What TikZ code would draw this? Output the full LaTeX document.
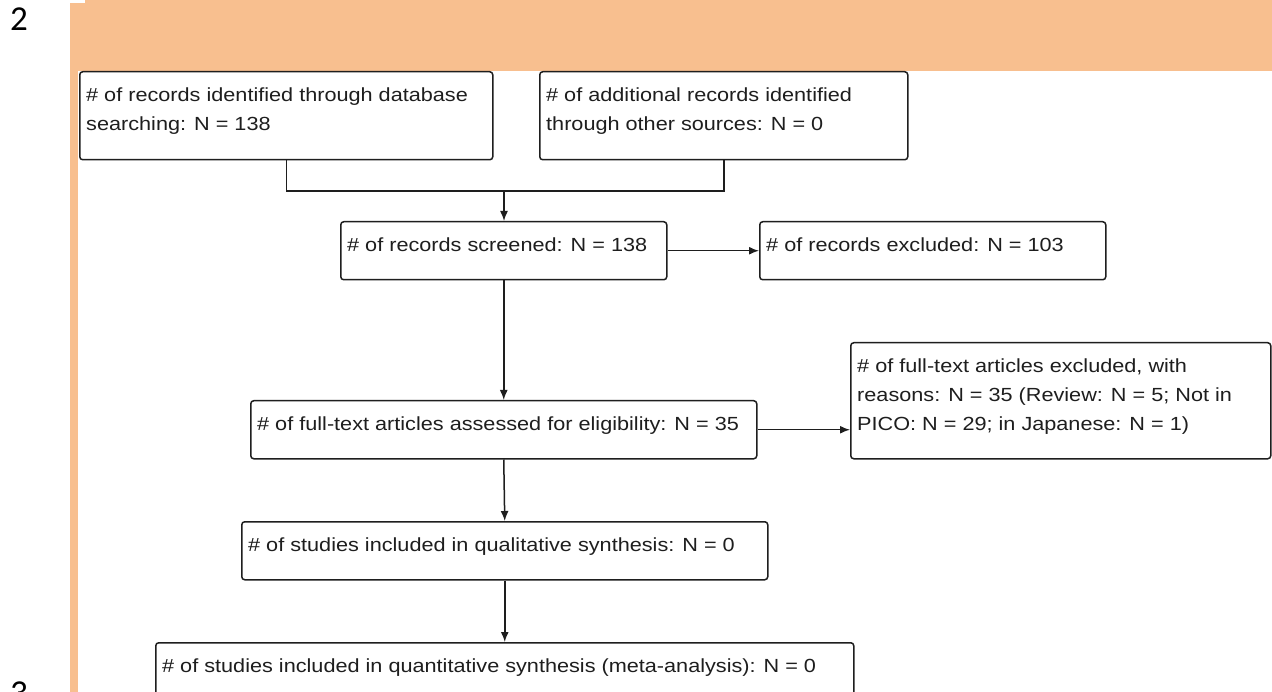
\documentclass[tikz,border=0pt]{standalone}
\usepackage{fontspec}
\setmainfont{Liberation Sans}[FakeStretch=1.14]
\newfontfamily\pagenumfont{Carlito}
\usetikzlibrary{arrows.meta}
\definecolor{band}{RGB}{248,191,143}
\definecolor{ink}{RGB}{30,30,30}

\begin{document}
\begin{tikzpicture}[x=1pt,y=-1pt,
  box/.style={draw=ink, line width=1.5pt, rounded corners=3pt, inner sep=0pt, anchor=north west},
  txt/.style={anchor=north west, inner sep=0pt, align=left, text=ink,
              font=\fontsize{19}{29}\selectfont},
  pagenum/.style={anchor=base west, inner sep=0pt, font=\pagenumfont\fontsize{35}{35}\selectfont},
  link/.style={draw=ink, line width=1.5pt},
  arr/.style={link, -{Latex[length=10pt,width=8pt]}}]

% page frame
\useasboundingbox (0,0) rectangle (1272,692);
\fill[white] (0,0) rectangle (1272,692);

% shaded header band and margin strip
\fill[band] (85,0) rectangle (1272,71);
\fill[band] (70,3) rectangle (85,71);
\fill[band] (70,71) rectangle (78,692);

% page numbers
\node[pagenum] (p2) at (10,31) {2};
\node[pagenum] (p3) at (10,704) {3};

% boxes
\node[box, minimum width=413pt, minimum height=88pt]  (b1) at (79,71)   {};
\node[box, minimum width=368pt, minimum height=88pt]  (b2) at (539,71)  {};
\node[box, minimum width=326pt, minimum height=58pt]  (b3) at (340,221) {};
\node[box, minimum width=346pt, minimum height=58pt]  (b4) at (759,221) {};
\node[box, minimum width=506pt, minimum height=58pt]  (b5) at (250,400) {};
\node[box, minimum width=420pt, minimum height=116pt] (b7) at (850,342) {};
\node[box, minimum width=526pt, minimum height=58pt]  (b6) at (241,521) {};
\node[box, minimum width=698pt, minimum height=70pt]  (b8) at (155,642) {};

% box texts
\node[txt] (t1) at ([xshift=7pt,yshift=-17pt]b1.north west)
  {\# of records identified through database\\searching: N = 138};
\node[txt] (t2) at ([xshift=7pt,yshift=-17pt]b2.north west)
  {\# of additional records identified\\through other sources: N = 0};
\node[txt] (t3) at ([xshift=7pt,yshift=-17pt]b3.north west)
  {\# of records screened: N = 138};
\node[txt] (t4) at ([xshift=7pt,yshift=-17pt]b4.north west)
  {\# of records excluded: N = 103};
\node[txt] (t5) at ([xshift=7pt,yshift=-17pt]b5.north west)
  {\# of full-text articles assessed for eligibility: N = 35};
\node[txt] (t7) at ([xshift=7pt,yshift=-17pt]b7.north west)
  {\# of full-text articles excluded, with\\reasons: N = 35 (Review: N = 5; Not in\\PICO: N = 29; in Japanese: N = 1)};
\node[txt] (t6) at ([xshift=7pt,yshift=-17pt]b6.north west)
  {\# of studies included in qualitative synthesis: N = 0};
\node[txt] (t8) at ([xshift=7pt,yshift=-17pt]b8.north west)
  {\# of studies included in quantitative synthesis (meta-analysis): N = 0};

% connectors
\coordinate (j) at (504,191);
\draw[link] (b1.south) |- (j) -| (b2.south);
\draw[arr] (j) -- (j |- b3.north);
\draw[arr] (b3.east) -- (b3.east -| b4.west);
\draw[arr] (b3.south) -- (b5.north);
\draw[arr] (b5.east) -- (b5.east -| b7.west);
\draw[arr] (b5.south) -- (b6.north);
\draw[arr] (b6.south) -- (b8.north);
\end{tikzpicture}
\end{document}
